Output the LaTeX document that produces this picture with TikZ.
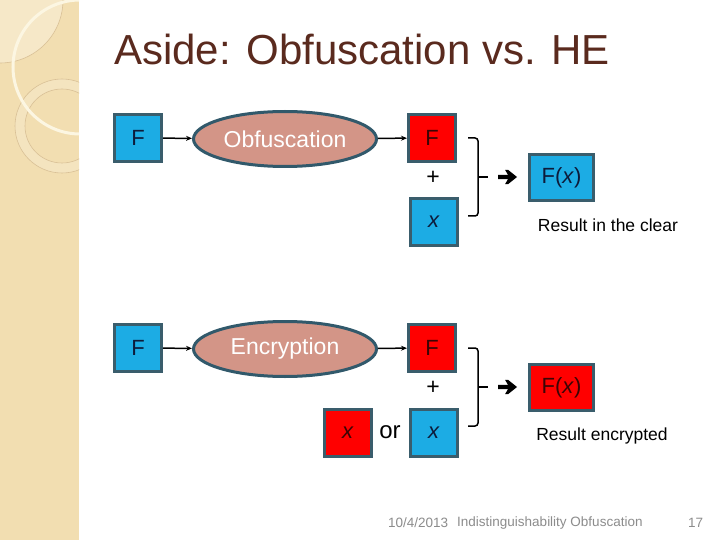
\documentclass[tikz,border=0pt]{standalone}
\usepackage{fontspec}
\setmainfont{Liberation Sans}
\usetikzlibrary{arrows.meta,shapes.geometric,calc}
\definecolor{sidebar}{HTML}{F2DEB1}
\definecolor{sidelight}{HTML}{F6E8C8}
\definecolor{sidering}{HTML}{D9C096}
\definecolor{sidewhite}{HTML}{FCF6E2}
\definecolor{boxblue}{HTML}{1CACE4}
\definecolor{boxred}{HTML}{FF0000}
\definecolor{boxline}{HTML}{3A5D6C}
\definecolor{ellfill}{HTML}{D39587}
\definecolor{ellline}{HTML}{31596B}
\definecolor{titlecol}{HTML}{5A2A1E}
\definecolor{footcol}{HTML}{8C8C8C}
\definecolor{bluetext}{HTML}{0D1B3A}
\definecolor{redtext}{HTML}{3A0505}
\tikzset{
  sq/.style={draw=boxline, line width=3pt, minimum width=47pt, minimum height=47pt, inner sep=0pt, font=\fontsize{22}{26}\selectfont},
  bluesq/.style={sq, fill=boxblue, text=bluetext},
  redsq/.style={sq, fill=boxred, text=redtext},
  resbox/.style={draw=boxline, line width=3pt, minimum width=64pt, minimum height=46pt, inner sep=0pt, font=\fontsize{22}{26}\selectfont},
  ell/.style={ellipse, draw=ellline, line width=3pt, fill=ellfill, minimum width=183pt, minimum height=55pt, inner sep=0pt, text=white, font=\fontsize{23}{27}\selectfont},
  conn/.style={line width=1.5pt, -{Stealth[length=6pt,width=5pt]}},
  brk/.style={line width=1.5pt, rounded corners=3pt},
  plus/.style={font=\fontsize{23}{27}\selectfont, inner sep=0pt},
  caption/.style={font=\fontsize{17.5}{21}\selectfont, inner sep=0pt},
  foot/.style={font=\fontsize{13.5}{16}\selectfont, text=footcol, inner sep=0pt, anchor=west},
}
\newcommand{\bigarrow}[1]{%
  \fill[black] ($(#1)+(0,-2.2)$) -- ++(10,0) -- ++(-3,-5) -- ++(3,0) -- ++(9,7.2) -- ++(-9,7.2) -- ++(-3,0) -- ++(3,-5) -- ++(-10,0) -- cycle;}
\begin{document}
\begin{tikzpicture}[x=1pt,y=-1pt]
\useasboundingbox (0,0) rectangle (720,540);
\fill[white] (0,0) rectangle (720,540);
% sidebar
\begin{scope}
  \clip (0,0) rectangle (79,540);
  \fill[sidebar] (0,0) rectangle (79,540);
  \fill[sidelight] (0,0) circle (63);
  \draw[sidering, line width=0.6pt] (0,0) circle (63);
  \fill[sidelight!60!sidebar, even odd rule] (62,126) circle (47) (62,126) circle (37);
  \draw[sidering, line width=0.6pt] (62,126) circle (47);
  \draw[sidering, line width=0.6pt] (62,126) circle (37);
  \draw[sidewhite, line width=3pt] (80,67) circle (67);
\end{scope}
% title
\node[anchor=base west, inner sep=0pt, text=titlecol, font=\fontsize{42}{48}\selectfont] (title) at (114,65) {Aside: Obfuscation vs. HE};

% top row
\node[bluesq] (f1) at (138,138) {F};
\node[ell] (obf) at (285,139) {Obfuscation};
\node[redsq] (of) at (432,138) {F};
\node[plus] (p1) at (433,178) {+};
\node[bluesq] (ox) at (434,222) {\textit{x}};
\draw[conn] (f1) -- (obf);
\draw[conn] (obf) -- (of);
\coordinate (b1t) at (468,138);
\coordinate (b1b) at (468,216);
\coordinate (b1m) at (478,177);
\draw[brk] (b1t) -- (478,138) -- (478,216) -- (b1b);
\draw[line width=1.5pt] (b1m) -- ++(10,0);
\coordinate (a1) at (498,177);
\bigarrow{a1}
\node[resbox, fill=boxblue, text=bluetext] (r1) at (561.5,177.5) {F(\textit{x})};
\node[caption] (c1) at (608,225) {Result in the clear};

% bottom row
\node[bluesq] (f2) at (138,348) {F};
\node[ell] (enc) at (285,349) {Encryption};
\node[redsq] (ef) at (432,348) {F};
\node[plus] (p2) at (433,388) {+};
\node[bluesq] (ex) at (434,433) {\textit{x}};
\node[redsq] (exr) at (348,433) {\textit{x}};
\node[inner sep=0pt, font=\fontsize{24}{28}\selectfont] (or) at (390,432) {or};
\draw[conn] (f2) -- (enc);
\draw[conn] (enc) -- (ef);
\coordinate (b2t) at (468,348);
\coordinate (b2b) at (468,426);
\coordinate (b2m) at (478,387);
\draw[brk] (b2t) -- (478,348) -- (478,426) -- (b2b);
\draw[line width=1.5pt] (b2m) -- ++(10,0);
\coordinate (a2) at (498,387);
\bigarrow{a2}
\node[resbox, fill=boxred, text=redtext] (r2) at (561.5,387.5) {F(\textit{x})};
\node[caption] (c2) at (602,436) {Result encrypted};

% footer
\node[foot] (date) at (388,523) {10/4/2013};
\node[foot] (ftitle) at (457,523) {Indistinguishability Obfuscation};
\node[foot] (page) at (688,523) {17};
\end{tikzpicture}
\end{document}
